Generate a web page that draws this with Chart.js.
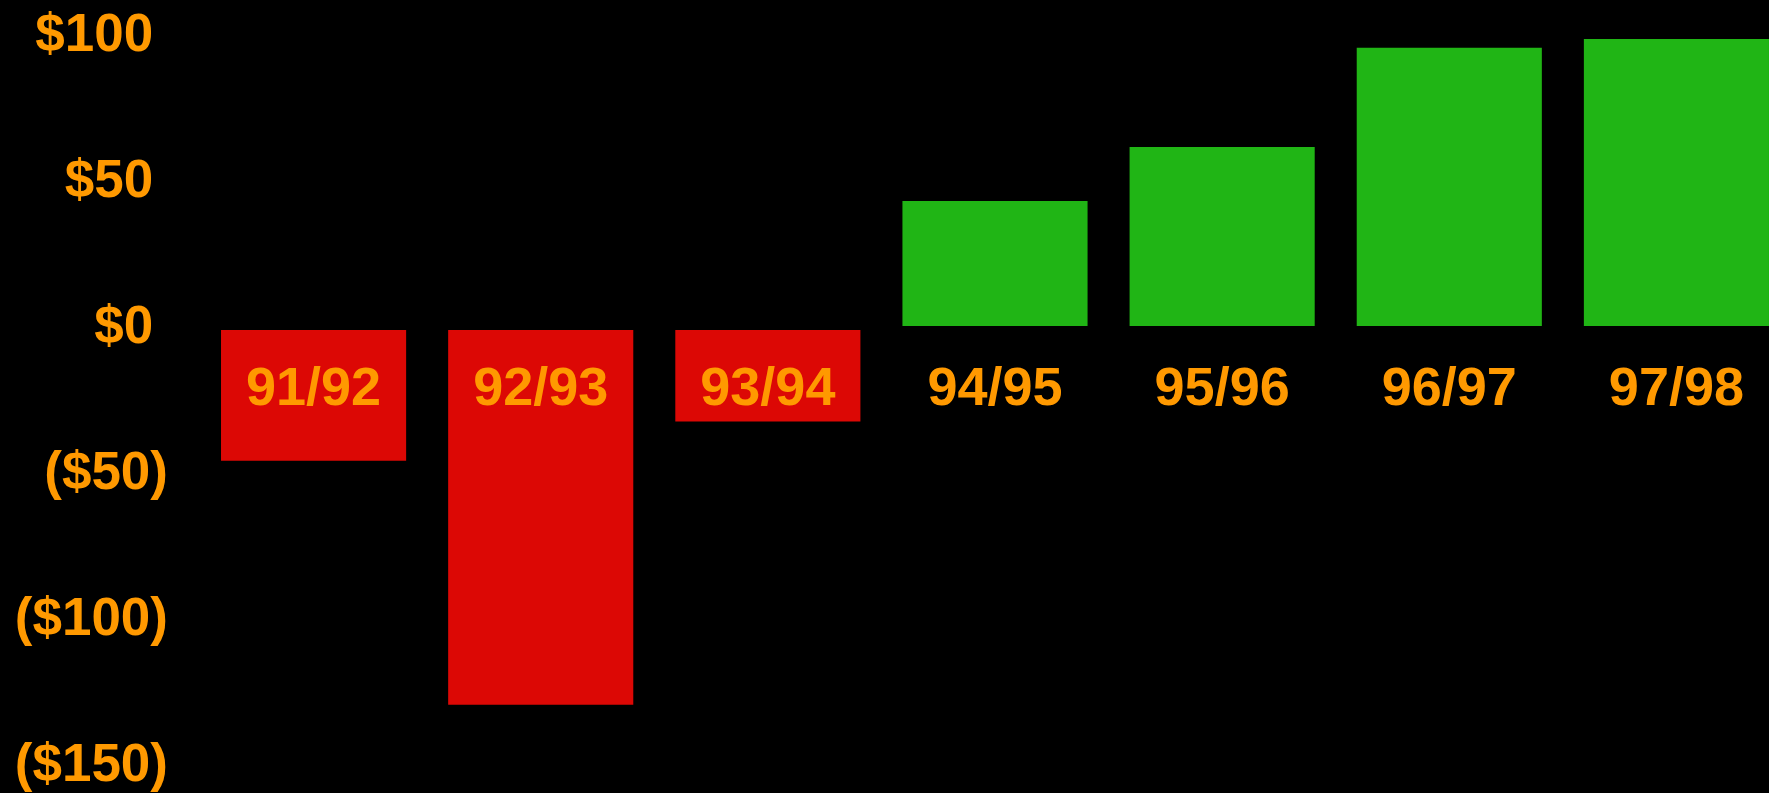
<!DOCTYPE html>
<html>
<head>
<meta charset="utf-8">
<script src="https://cdn.jsdelivr.net/npm/chart.js@4/dist/chart.umd.min.js"></script>
<style>
  html, body { margin: 0; padding: 0; background: #000; overflow: hidden; width: 1769px; height: 793px; }
  #wrap { position: relative; width: 1790px; height: 793px; }
</style>
</head>
<body>
<div id="wrap"><canvas id="c"></canvas></div>
<script>
const categories = ['91/92', '92/93', '93/94', '94/95', '95/96', '96/97', '97/98'];
const values = [-45.5, -129, -32, 43.5, 62, 96, 99];
const yTickValues = [100, 50, 0, -50, -100, -150];
const yTickLabels = ['$100', '$50', '$0', '($50)', '($100)', '($150)'];

const ORANGE = '#FF9900';
const RED = '#DC0805';
const GREEN = '#20B515';

function zeroPad(s) {
  s.paddingTop = 0; s.paddingBottom = 0; s.paddingLeft = 0; s.paddingRight = 0;
}

new Chart(document.getElementById('c'), {
  type: 'bar',
  data: {
    labels: categories,
    datasets: [{
      data: values,
      backgroundColor: ctx => (ctx.raw < 0 ? RED : GREEN),
      borderWidth: 0,
      barPercentage: 0.815,
      categoryPercentage: 1.0
    }]
  },
  options: {
    responsive: true,
    maintainAspectRatio: false,
    animation: false,
    layout: { padding: { top: 36, bottom: 27, left: 0, right: 0 } },
    plugins: { legend: { display: false }, tooltip: { enabled: false } },
    scales: {
      x: {
        position: { y: 0 },
        offset: true,
        afterFit: s => { s.height = 0; zeroPad(s); },
        grid: { display: false, drawTicks: false },
        border: { display: true, color: '#000', width: 4, z: 1 },
        ticks: {
          z: 1,
          color: ORANGE,
          font: { family: '"Liberation Sans", Arial, sans-serif', size: 54, weight: 'bold' },
          padding: 30,
          maxRotation: 0,
          autoSkip: false
        }
      },
      y: {
        min: -150,
        max: 100,
        afterFit: s => { s.width = 200; zeroPad(s); },
        afterBuildTicks: s => { s.ticks = yTickValues.map(v => ({ value: v })); },
        grid: { display: false, drawTicks: false },
        border: { display: false },
        ticks: {
          color: ORANGE,
          font: { family: '"Liberation Sans", Arial, sans-serif', size: 53, weight: 'bold' },
          padding: 32,
          callback: v => {
            const lbl = yTickLabels[yTickValues.indexOf(v)];
            return v >= 0 ? lbl + ' ' : lbl;
          }
        }
      }
    }
  }
});
</script>
</body>
</html>
